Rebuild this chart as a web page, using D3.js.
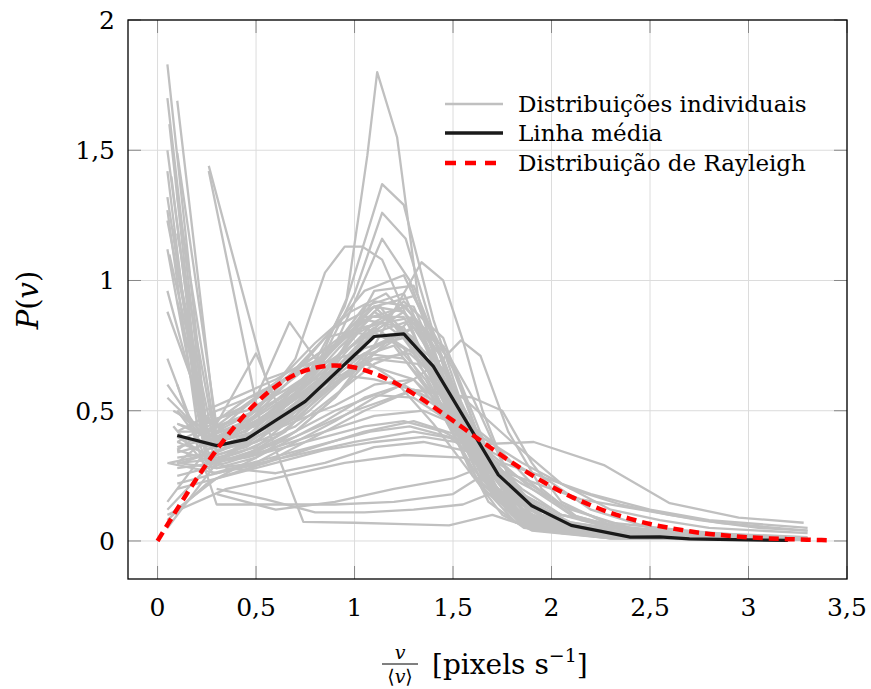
<!DOCTYPE html>
<html><head><meta charset="utf-8">
<script src="https://cdn.jsdelivr.net/npm/d3@7"></script>
<style>body{margin:0;background:#fff}svg{display:block}</style>
</head><body><svg id="c" width="871" height="689"></svg>
<script>
// ---------- DATA ----------
const xTicks = [0, 0.5, 1, 1.5, 2, 2.5, 3, 3.5];
const yTicks = [0, 0.5, 1, 1.5, 2];
const legendLabels = ["Distribuições individuais", "Linha média", "Distribuição de Rayleigh"];

// mean line
const meanX = [0.1, 0.3, 0.45, 0.75, 1.1, 1.25, 1.4, 1.73, 1.9, 2.1, 2.4, 2.55, 2.7, 3.0, 3.2];
const meanY = [0.405, 0.366, 0.39, 0.536, 0.785, 0.795, 0.67, 0.254, 0.135, 0.06, 0.015, 0.016, 0.008, 0.004, 0.002];

// Rayleigh curve
const rayX = [0,0.1,0.2,0.3,0.4,0.5,0.6,0.7,0.8,0.9,1.0,1.1,1.2,1.3,1.4,1.5,1.6,1.7,1.8,1.9,2.0,2.1,2.2,2.3,2.4,2.5,2.6,2.7,2.8,2.9,3.0,3.1,3.2,3.3,3.4];
const rayY = [0,0.123,0.241,0.350,0.447,0.529,0.593,0.639,0.665,0.674,0.666,0.643,0.609,0.565,0.515,0.462,0.407,0.353,0.301,0.253,0.209,0.170,0.137,0.108,0.085,0.065,0.050,0.037,0.027,0.020,0.014,0.010,0.007,0.005,0.003];

// individual distributions: [x, y] pairs
const greyLines = [
 [[0.05,1.83],[0.25,0.42],[0.45,0.48],[0.65,0.6],[0.85,0.72],[1.05,0.85],[1.25,0.82],[1.45,0.55],[1.65,0.22],[1.85,0.08],[2.05,0.04],[2.45,0.02],[2.85,0.01],[3.25,0.01]],
 [[0.05,1.70],[0.25,0.38],[0.45,0.42],[0.65,0.55],[0.85,0.7],[1.05,0.9],[1.25,0.95],[1.45,0.62],[1.65,0.25],[1.85,0.07],[2.05,0.03],[2.45,0.01],[3.25,0.005]],
 [[0.1,1.69],[0.3,0.4],[0.5,0.45],[0.7,0.52],[0.9,0.66],[1.1,0.8],[1.3,0.85],[1.5,0.5],[1.7,0.2],[1.9,0.06],[2.1,0.03],[2.5,0.01],[3.3,0.005]],
 [[0.05,1.50],[0.25,0.35],[0.45,0.4],[0.65,0.5],[0.85,0.62],[1.05,0.78],[1.25,0.88],[1.45,0.7],[1.65,0.3],[1.85,0.1],[2.05,0.04],[2.45,0.015],[3.25,0.005]],
 [[0.1,1.49],[0.3,0.44],[0.5,0.5],[0.7,0.58],[0.9,0.75],[1.1,0.92],[1.3,0.9],[1.5,0.55],[1.7,0.2],[1.9,0.07],[2.3,0.02],[3.3,0.005]],
 [[0.05,1.32],[0.25,0.32],[0.45,0.36],[0.65,0.46],[0.85,0.6],[1.05,0.72],[1.25,0.8],[1.45,0.66],[1.65,0.32],[1.85,0.12],[2.05,0.05],[2.45,0.02],[3.25,0.01]],
 [[0.1,1.32],[0.3,0.38],[0.5,0.42],[0.7,0.48],[0.9,0.68],[1.1,0.96],[1.3,0.98],[1.5,0.6],[1.7,0.18],[1.9,0.05],[2.3,0.01],[3.3,0.005]],
 [[0.05,1.23],[0.25,0.45],[0.45,0.52],[0.65,0.62],[0.85,0.78],[1.05,0.82],[1.25,0.74],[1.45,0.48],[1.65,0.2],[1.85,0.08],[2.25,0.02],[3.25,0.005]],
 [[0.05,1.12],[0.25,0.3],[0.45,0.33],[0.65,0.42],[0.85,0.58],[1.05,0.78],[1.25,0.92],[1.45,0.78],[1.65,0.36],[1.85,0.12],[2.05,0.04],[2.45,0.015],[3.25,0.005]],
 [[0.1,1.18],[0.3,0.36],[0.5,0.4],[0.7,0.47],[0.9,0.6],[1.1,0.75],[1.3,0.82],[1.5,0.6],[1.7,0.28],[1.9,0.1],[2.1,0.04],[2.5,0.015],[3.3,0.005]],
 [[0.05,0.96],[0.25,0.4],[0.45,0.46],[0.65,0.56],[0.85,0.7],[1.05,0.86],[1.25,0.86],[1.45,0.58],[1.65,0.24],[1.85,0.08],[2.25,0.02],[3.25,0.005]],
 [[0.1,1.05],[0.3,0.33],[0.5,0.38],[0.7,0.5],[0.9,0.7],[1.1,0.88],[1.3,0.78],[1.5,0.48],[1.7,0.22],[1.9,0.09],[2.3,0.02],[3.3,0.005]],
 [[0.05,1.42],[0.2,0.5],[0.35,0.42],[0.5,0.44],[0.65,0.52],[0.8,0.66],[0.95,0.8],[1.1,0.9],[1.25,0.88],[1.4,0.7],[1.55,0.4],[1.7,0.18],[1.85,0.07],[2.2,0.02],[3.2,0.005]],
 [[0.05,1.27],[0.2,0.45],[0.35,0.36],[0.5,0.4],[0.65,0.46],[0.8,0.58],[0.95,0.72],[1.1,0.84],[1.25,0.9],[1.4,0.78],[1.55,0.48],[1.7,0.22],[1.85,0.08],[2.2,0.02],[3.2,0.005]],
 [[0.08,1.2],[0.25,0.3],[0.42,0.34],[0.6,0.4],[0.77,0.5],[0.94,0.62],[1.1,0.7],[1.28,0.72],[1.45,0.6],[1.62,0.36],[1.8,0.16],[2.0,0.07],[2.4,0.02],[3.2,0.01]],
 [[0.05,0.88],[0.25,0.46],[0.45,0.5],[0.65,0.58],[0.85,0.68],[1.05,0.78],[1.25,0.8],[1.45,0.6],[1.65,0.3],[1.85,0.12],[2.05,0.05],[2.45,0.02],[3.25,0.01]],
 [[0.1,0.92],[0.3,0.28],[0.5,0.32],[0.7,0.42],[0.9,0.55],[1.1,0.72],[1.3,0.86],[1.5,0.68],[1.7,0.3],[1.9,0.1],[2.3,0.02],[3.3,0.005]],
 [[0.06,1.6],[0.22,0.48],[0.38,0.4],[0.54,0.46],[0.7,0.56],[0.86,0.66],[1.02,0.8],[1.18,0.86],[1.34,0.74],[1.5,0.46],[1.66,0.2],[1.82,0.07],[2.2,0.02],[3.2,0.005]],
 [[0.07,1.4],[0.24,0.36],[0.41,0.42],[0.58,0.5],[0.75,0.6],[0.92,0.74],[1.09,0.86],[1.26,0.9],[1.43,0.72],[1.6,0.36],[1.77,0.12],[1.94,0.04],[2.3,0.01],[3.2,0.005]],
 [[0.06,1.1],[0.24,0.5],[0.42,0.56],[0.6,0.62],[0.78,0.7],[0.96,0.8],[1.14,0.84],[1.32,0.74],[1.5,0.5],[1.68,0.24],[1.86,0.09],[2.2,0.02],[3.2,0.005]],
 [[0.26,1.44],[0.55,0.62],[0.84,0.7],[1.13,0.9],[1.42,0.6],[1.71,0.2],[2.0,0.05],[2.58,0.01],[3.16,0.005]],
 [[0.26,1.42],[0.52,0.46],[0.78,0.58],[1.04,0.82],[1.3,0.86],[1.56,0.45],[1.82,0.12],[2.08,0.04],[2.6,0.01],[3.12,0.005]],
 [[0.05,0.05],[0.3,0.3],[0.55,0.42],[0.8,0.55],[1.05,0.68],[1.3,0.62],[1.55,0.4],[1.8,0.2],[2.05,0.1],[2.3,0.05],[2.8,0.02],[3.3,0.01]],
 [[0.05,0.08],[0.25,0.22],[0.45,0.3],[0.65,0.38],[0.85,0.46],[1.05,0.55],[1.25,0.6],[1.45,0.5],[1.65,0.32],[1.85,0.18],[2.05,0.1],[2.45,0.04],[2.85,0.02],[3.25,0.01]],
 [[0.05,0.12],[0.25,0.28],[0.45,0.38],[0.65,0.5],[0.85,0.62],[1.05,0.74],[1.25,0.78],[1.45,0.6],[1.65,0.3],[1.85,0.12],[2.05,0.05],[2.45,0.02],[3.25,0.01]],
 [[0.06,0.1],[0.3,0.24],[0.55,0.3],[0.8,0.4],[1.05,0.5],[1.3,0.58],[1.55,0.55],[1.8,0.38],[2.05,0.22],[2.3,0.12],[2.55,0.08],[2.8,0.05],[3.3,0.03]],
 [[0.05,0.15],[0.25,0.35],[0.45,0.45],[0.65,0.6],[0.85,0.78],[1.05,0.96],[1.25,1.02],[1.45,0.7],[1.65,0.28],[1.85,0.08],[2.25,0.02],[3.25,0.005]],
 [[0.06,0.3],[0.24,0.33],[0.42,0.38],[0.6,0.5],[0.78,0.62],[0.96,0.93],[1.065,1.48],[1.115,1.80],[1.216,1.55],[1.32,0.95],[1.5,0.42],[1.68,0.15],[1.86,0.05],[2.2,0.02],[3.2,0.005]],
 [[0.1,0.4],[0.3,0.36],[0.5,0.42],[0.7,0.55],[0.95,0.9],[1.14,1.37],[1.25,1.29],[1.4,0.85],[1.6,0.4],[1.75,0.16],[1.9,0.06],[2.3,0.02],[3.3,0.005]],
 [[0.05,0.55],[0.25,0.4],[0.45,0.45],[0.65,0.55],[0.85,0.72],[1.0,0.95],[1.14,1.26],[1.26,1.16],[1.4,0.8],[1.55,0.42],[1.7,0.18],[1.85,0.07],[2.2,0.02],[3.2,0.005]],
 [[0.1,0.45],[0.3,0.38],[0.5,0.42],[0.7,0.55],[0.9,0.75],[1.02,0.95],[1.14,1.16],[1.28,1.0],[1.42,0.7],[1.56,0.4],[1.7,0.18],[1.85,0.06],[2.2,0.02],[3.25,0.005]],
 [[0.1,0.42],[0.3,0.42],[0.5,0.5],[0.7,0.7],[0.85,1.03],[0.95,1.13],[1.04,1.13],[1.14,1.08],[1.3,0.8],[1.45,0.5],[1.6,0.25],[1.75,0.1],[1.9,0.04],[2.3,0.01],[3.2,0.005]],
 [[0.1,0.35],[0.3,0.3],[0.5,0.34],[0.7,0.42],[0.9,0.55],[1.1,0.75],[1.25,0.95],[1.34,1.07],[1.45,1.0],[1.55,0.77],[1.65,0.5],[1.78,0.25],[1.95,0.1],[2.2,0.04],[2.6,0.015],[3.3,0.005]],
 [[0.1,0.3],[0.3,0.28],[0.5,0.3],[0.7,0.38],[0.9,0.46],[1.1,0.55],[1.3,0.62],[1.45,0.7],[1.54,0.77],[1.64,0.71],[1.78,0.42],[1.95,0.2],[2.15,0.08],[2.5,0.03],[3.3,0.01]],
 [[0.1,0.2],[0.35,0.25],[0.6,0.3],[0.85,0.35],[1.1,0.38],[1.35,0.4],[1.6,0.37],[1.91,0.38],[2.27,0.29],[2.6,0.145],[2.95,0.09],[3.28,0.07]],
 [[0.1,0.25],[0.35,0.3],[0.6,0.36],[0.85,0.42],[1.1,0.48],[1.35,0.5],[1.6,0.42],[1.85,0.3],[2.1,0.2],[2.35,0.14],[2.6,0.1],[2.85,0.07],[3.3,0.04]],
 [[0.1,0.22],[0.4,0.28],[0.7,0.33],[1.0,0.38],[1.3,0.42],[1.6,0.38],[1.9,0.26],[2.2,0.18],[2.5,0.12],[2.8,0.08],[3.3,0.05]],
 [[0.05,0.1],[0.35,0.2],[0.65,0.25],[0.95,0.3],[1.25,0.33],[1.55,0.32],[1.85,0.24],[2.15,0.16],[2.45,0.12],[2.75,0.08],[3.05,0.05],[3.3,0.04]],
 [[0.1,0.6],[0.3,0.14],[0.6,0.14],[0.9,0.14],[1.2,0.15],[1.5,0.18],[1.75,0.3],[1.95,0.25],[2.2,0.12],[2.5,0.05],[3.0,0.02],[3.3,0.01]],
 [[0.1,0.5],[0.3,0.3],[0.55,0.45],[0.74,0.073],[1.0,0.07],[1.25,0.065],[1.48,0.06],[1.7,0.1],[1.9,0.05],[2.2,0.02],[3.0,0.005]],
 [[0.3,0.2],[0.55,0.16],[0.8,0.11],[1.05,0.11],[1.3,0.12],[1.55,0.14],[1.75,0.2],[1.95,0.1],[2.2,0.04],[2.8,0.01],[3.3,0.005]],
 [[0.3,0.18],[0.6,0.12],[0.9,0.15],[1.2,0.2],[1.5,0.24],[1.7,0.3],[1.9,0.15],[2.1,0.06],[2.5,0.02],[3.2,0.005]],
 [[0.1,0.3],[0.3,0.42],[0.5,0.55],[0.67,0.84],[0.82,0.68],[1.0,0.72],[1.2,0.62],[1.4,0.45],[1.6,0.25],[1.8,0.12],[2.0,0.05],[2.4,0.02],[3.2,0.005]],
 [[0.1,0.35],[0.3,0.45],[0.5,0.72],[0.62,0.5],[0.8,0.6],[1.0,0.7],[1.2,0.75],[1.4,0.55],[1.6,0.28],[1.8,0.1],[2.1,0.03],[2.6,0.01],[3.2,0.005]],
 [[0.1,0.38],[0.28,0.45],[0.46,0.55],[0.64,0.62],[0.82,0.72],[1.0,0.8],[1.18,0.78],[1.36,0.62],[1.54,0.38],[1.72,0.18],[1.9,0.07],[2.3,0.02],[3.2,0.005]],
 [[0.1,0.32],[0.3,0.34],[0.5,0.4],[0.7,0.46],[0.9,0.52],[1.1,0.6],[1.3,0.62],[1.5,0.48],[1.7,0.3],[1.9,0.15],[2.1,0.07],[2.5,0.03],[3.3,0.01]],
 [[0.1,0.45],[0.3,0.4],[0.5,0.46],[0.7,0.56],[0.9,0.7],[1.1,0.82],[1.3,0.72],[1.5,0.44],[1.7,0.2],[1.9,0.08],[2.3,0.02],[3.3,0.005]],
 [[0.05,0.6],[0.25,0.38],[0.45,0.44],[0.65,0.52],[0.85,0.64],[1.05,0.72],[1.25,0.7],[1.45,0.52],[1.65,0.3],[1.85,0.14],[2.05,0.06],[2.45,0.02],[3.25,0.005]],
 [[0.1,0.28],[0.3,0.3],[0.5,0.35],[0.7,0.42],[0.9,0.5],[1.1,0.56],[1.3,0.55],[1.5,0.45],[1.7,0.33],[1.9,0.2],[2.1,0.1],[2.4,0.04],[2.8,0.02],[3.3,0.01]],
 [[0.1,0.5],[0.3,0.35],[0.5,0.38],[0.7,0.44],[0.9,0.56],[1.1,0.68],[1.3,0.74],[1.5,0.58],[1.7,0.32],[1.9,0.12],[2.1,0.04],[2.5,0.01],[3.3,0.005]],
 [[0.05,0.7],[0.25,0.3],[0.45,0.32],[0.65,0.36],[0.85,0.4],[1.05,0.44],[1.25,0.46],[1.45,0.42],[1.65,0.34],[1.85,0.2],[2.05,0.1],[2.45,0.04],[2.85,0.02],[3.25,0.01]],
 [[0.1,0.4],[0.35,0.28],[0.6,0.26],[0.85,0.3],[1.1,0.36],[1.35,0.38],[1.6,0.34],[1.85,0.22],[2.1,0.12],[2.4,0.05],[2.8,0.02],[3.3,0.01]],
 [[0.08,0.5],[0.26,0.42],[0.44,0.52],[0.62,0.62],[0.8,0.76],[0.98,0.88],[1.16,0.95],[1.34,0.8],[1.52,0.5],[1.7,0.22],[1.88,0.07],[2.2,0.02],[3.2,0.005]],
 [[0.1,0.36],[0.3,0.4],[0.5,0.48],[0.7,0.6],[0.9,0.64],[1.1,0.62],[1.3,0.58],[1.5,0.5],[1.7,0.38],[1.9,0.22],[2.1,0.1],[2.4,0.04],[2.9,0.01],[3.3,0.005]],
 [[0.12,0.3],[0.36,0.36],[0.6,0.45],[0.84,0.58],[1.08,0.7],[1.32,0.68],[1.56,0.45],[1.8,0.2],[2.04,0.08],[2.4,0.03],[3.0,0.01],[3.3,0.005]],
 [[0.1,0.3],[0.4,0.32],[0.7,0.4],[1.0,0.5],[1.3,0.58],[1.6,0.55],[1.75,0.5],[1.9,0.3],[2.05,0.15],[2.3,0.06],[2.8,0.02],[3.3,0.01]],
 [[0.1,0.38],[0.3,0.32],[0.5,0.36],[0.7,0.48],[0.9,0.62],[1.1,0.72],[1.3,0.82],[1.45,0.75],[1.6,0.55],[1.75,0.3],[1.9,0.12],[2.1,0.04],[2.5,0.01],[3.3,0.005]],
 [[0.1,0.42],[0.3,0.5],[0.5,0.56],[0.7,0.64],[0.9,0.74],[1.1,0.9],[1.3,0.94],[1.5,0.66],[1.7,0.26],[1.9,0.08],[2.3,0.02],[3.3,0.005]],
 [[0.05,0.3],[0.3,0.26],[0.55,0.3],[0.8,0.36],[1.05,0.42],[1.3,0.46],[1.55,0.4],[1.8,0.26],[2.05,0.14],[2.3,0.07],[2.8,0.03],[3.3,0.015]],
 [[0.1,0.34],[0.3,0.38],[0.5,0.5],[0.7,0.66],[0.9,0.82],[1.1,0.9],[1.3,0.76],[1.5,0.46],[1.7,0.2],[1.9,0.07],[2.3,0.02],[3.3,0.005]],
 [[0.08,0.44],[0.28,0.26],[0.48,0.3],[0.68,0.34],[0.88,0.38],[1.08,0.42],[1.28,0.44],[1.48,0.4],[1.68,0.28],[1.88,0.14],[2.1,0.06],[2.5,0.02],[3.2,0.01]]
];

// ---------- CHART ----------
const svg = d3.select("#c");
const L = 128, R = 847, T = 20, B = 579;
const x = d3.scaleLinear().domain([-0.15, 3.5]).range([L, R]);
const y = d3.scaleLinear().domain([-0.146, 2]).range([B, T]);
const FONT = "'DejaVu Serif', serif";
const fmt = d => String(d).replace(".", ",");

// grid
const g = svg.append("g");
g.selectAll(".gx").data(xTicks).join("line")
  .attr("x1", d => x(d)).attr("x2", d => x(d)).attr("y1", T).attr("y2", B)
  .attr("stroke", "#dcdcdc").attr("stroke-width", 1);
g.selectAll(".gy").data(yTicks).join("line")
  .attr("x1", L).attr("x2", R).attr("y1", d => y(d)).attr("y2", d => y(d))
  .attr("stroke", "#dcdcdc").attr("stroke-width", 1);

// clip
svg.append("clipPath").attr("id", "clip").append("rect")
  .attr("x", L).attr("y", T).attr("width", R - L).attr("height", B - T);

const line = d3.line().x(d => x(d[0])).y(d => y(d[1]));
const plot = svg.append("g").attr("clip-path", "url(#clip)");

plot.selectAll(".grey").data(greyLines).join("path")
  .attr("d", line).attr("fill", "none")
  .attr("stroke", "#c0c0c0").attr("stroke-width", 2.3).attr("stroke-linejoin", "round");

plot.append("path").datum(meanX.map((v, i) => [v, meanY[i]]))
  .attr("d", line).attr("fill", "none").attr("stroke", "#1a1a1a").attr("stroke-width", 3.2)
  .attr("stroke-linejoin", "round");

plot.append("path").datum(rayX.map((v, i) => [v, rayY[i]]))
  .attr("d", d3.line().curve(d3.curveMonotoneX).x(d => x(d[0])).y(d => y(d[1])))
  .attr("fill", "none").attr("stroke", "#ff0000").attr("stroke-width", 4.5)
  .attr("stroke-dasharray", "10,6");

// ticks (inside, all four sides)
const TL = 13, tc = "#888";
const tk = svg.append("g").attr("stroke", tc).attr("stroke-width", 1);
xTicks.forEach(d => {
  tk.append("line").attr("x1", x(d)).attr("x2", x(d)).attr("y1", B).attr("y2", B - TL);
  tk.append("line").attr("x1", x(d)).attr("x2", x(d)).attr("y1", T).attr("y2", T + TL);
});
yTicks.forEach(d => {
  tk.append("line").attr("x1", L).attr("x2", L + TL).attr("y1", y(d)).attr("y2", y(d));
  tk.append("line").attr("x1", R).attr("x2", R - TL).attr("y1", y(d)).attr("y2", y(d));
});

// frame
svg.append("rect").attr("x", L).attr("y", T).attr("width", R - L).attr("height", B - T)
  .attr("fill", "none").attr("stroke", "#000").attr("stroke-width", 1.3);

// tick labels
svg.selectAll(".xl").data(xTicks).join("text")
  .attr("x", d => x(d)).attr("y", 616).attr("text-anchor", "middle")
  .attr("font-family", FONT).attr("font-size", 25).text(fmt);
svg.selectAll(".yl").data(yTicks).join("text")
  .attr("x", 115).attr("y", d => y(d) + 9).attr("text-anchor", "end")
  .attr("font-family", FONT).attr("font-size", 25).text(fmt);

// y label
const yl = svg.append("text").attr("transform", "translate(38,300) rotate(-90)")
  .attr("text-anchor", "middle").attr("font-family", FONT).attr("font-size", 29);
yl.append("tspan").attr("font-style", "italic").text("P");
yl.append("tspan").text("(");
yl.append("tspan").attr("font-style", "italic").text("v");
yl.append("tspan").text(")");

// x label
svg.append("text").attr("x", 400).attr("y", 659).attr("text-anchor", "middle")
  .attr("font-family", FONT).attr("font-size", 19).attr("font-style", "italic").text("v");
svg.append("line").attr("x1", 382).attr("x2", 418).attr("y1", 664).attr("y2", 664)
  .attr("stroke", "#000").attr("stroke-width", 1);
const den = svg.append("text").attr("x", 400).attr("y", 683).attr("text-anchor", "middle")
  .attr("font-family", FONT).attr("font-size", 19);
den.append("tspan").text("⟨");
den.append("tspan").attr("font-style", "italic").text("v");
den.append("tspan").text("⟩");
const xl = svg.append("text").attr("x", 432).attr("y", 674)
  .attr("font-family", FONT).attr("font-size", 28);
xl.append("tspan").text("[pixels s");
xl.append("tspan").attr("font-size", 19).attr("dy", -12).text("−1");
xl.append("tspan").attr("dy", 12).text("]");

// legend
const lg = svg.append("g");
const lStyles = [
  {c: "#c0c0c0", w: 2.5, dash: null},
  {c: "#1a1a1a", w: 3.5, dash: null},
  {c: "#ff0000", w: 4.5, dash: "11,9"}
];
const lY = [104, 133, 163];
legendLabels.forEach((t, i) => {
  lg.append("line").attr("x1", 445).attr("x2", 503).attr("y1", lY[i]).attr("y2", lY[i])
    .attr("stroke", lStyles[i].c).attr("stroke-width", lStyles[i].w)
    .attr("stroke-dasharray", lStyles[i].dash);
  lg.append("text").attr("x", 518).attr("y", lY[i] + 8)
    .attr("font-family", FONT).attr("font-size", 23).text(t);
});
</script></body></html>
